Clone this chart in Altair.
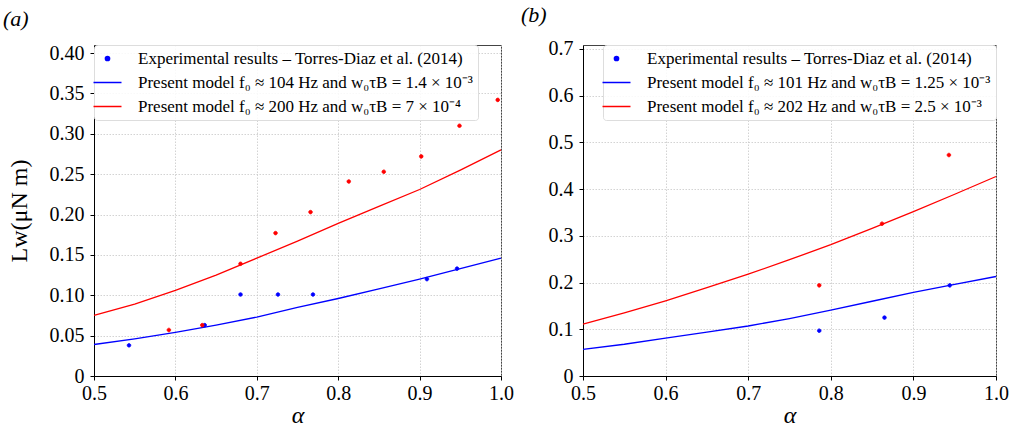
import altair as alt
import pandas as pd

FONT = "Liberation Serif"

# ---------------- data ----------------
alpha_grid = [0.50, 0.55, 0.60, 0.65, 0.70, 0.75, 0.80, 0.85, 0.90, 0.95, 1.00]

# panel (a)
a_model_blue = [0.039, 0.046, 0.054, 0.063, 0.073, 0.085, 0.096, 0.108, 0.120, 0.133, 0.146]
a_model_red = [0.075, 0.089, 0.106, 0.125, 0.146, 0.167, 0.189, 0.210, 0.231, 0.255, 0.280]
a_exp_blue_x = [0.543, 0.636, 0.680, 0.726, 0.769, 0.909, 0.946]
a_exp_blue_y = [0.038, 0.063, 0.101, 0.101, 0.101, 0.120, 0.133]
a_exp_red_x = [0.592, 0.633, 0.680, 0.723, 0.766, 0.813, 0.856, 0.902, 0.949, 0.996]
a_exp_red_y = [0.057, 0.063, 0.139, 0.177, 0.203, 0.241, 0.253, 0.272, 0.310, 0.342]
a_labels = [
    "Experimental results – Torres-Diaz et al. (2014)",
    "Present model f₀ ≈ 104 Hz and w₀τB = 1.4 × 10⁻³",
    "Present model f₀ ≈ 200 Hz and w₀τB = 7 × 10⁻⁴",
]

# panel (b)
b_model_blue = [0.057, 0.068, 0.081, 0.094, 0.107, 0.123, 0.141, 0.160, 0.179, 0.196, 0.213]
b_model_red = [0.111, 0.135, 0.161, 0.189, 0.218, 0.249, 0.281, 0.316, 0.352, 0.389, 0.427]
b_exp_blue_x = [0.786, 0.865, 0.944]
b_exp_blue_y = [0.097, 0.125, 0.194]
b_exp_red_x = [0.786, 0.862, 0.943]
b_exp_red_y = [0.194, 0.326, 0.473]
b_labels = [
    "Experimental results – Torres-Diaz et al. (2014)",
    "Present model f₀ ≈ 101 Hz and w₀τB = 1.25 × 10⁻³",
    "Present model f₀ ≈ 202 Hz and w₀τB = 2.5 × 10⁻³",
]

x_ticks = [0.5, 0.6, 0.7, 0.8, 0.9, 1.0]
a_y_ticks = [0, 0.05, 0.10, 0.15, 0.20, 0.25, 0.30, 0.35, 0.40]
b_y_ticks = [0, 0.1, 0.2, 0.3, 0.4, 0.5, 0.6, 0.7]

BLUE = "#0000ff"
RED = "#ff0000"

KEYS = ["e1", "e2", "m1", "m2"]
CIRCLE = "M -0.3,0 A 0.3,0.3 0 1,1 0.3,0 A 0.3,0.3 0 1,1 -0.3,0 Z"
LINE = "M -2,0 L 2,0"


def panel(model_blue, model_red, ebx, eby, erx, ery, labels, y_ticks, y_max,
          y_fmt, width, height, title, legend_orient, y_title, title_dx, title_offset):
    lines = pd.DataFrame({
        "alpha": alpha_grid + alpha_grid,
        "L": model_blue + model_red,
        "key": ["m1"] * len(alpha_grid) + ["m2"] * len(alpha_grid),
    })
    pts = pd.DataFrame({
        "alpha": ebx + erx,
        "L": eby + ery,
        "key": ["e1"] * len(ebx) + ["e2"] * len(erx),
    })
    label_expr = (
        f"datum.value == 'e1' ? '{labels[0]}' : "
        f"datum.value == 'm1' ? '{labels[1]}' : '{labels[2]}'"
    )
    xenc = alt.X("alpha:Q", scale=alt.Scale(domain=[0.5, 1.0], nice=False, zero=False),
                 axis=alt.Axis(values=x_ticks, format=".1f", title="α", labelFlush=False,
                               labelPadding=3, titleFontStyle="italic", titlePadding=0))
    yaxis = alt.Axis(values=y_ticks, labelFlush=False, labelPadding=6,
                     labelExpr=f"datum.value == 0 ? '0' : format(datum.value, '{y_fmt}')",
                     title=y_title if y_title else None, titlePadding=18)
    yenc = alt.Y("L:Q", scale=alt.Scale(domain=[0, y_max], nice=False), axis=yaxis)

    line_layer = alt.Chart(lines).mark_line(strokeWidth=1.3).encode(
        x=xenc, y=yenc,
        stroke=alt.Stroke("key:N", scale=alt.Scale(domain=["m1", "m2"], range=[BLUE, RED]),
                          legend=None),
        detail="key:N",
    )
    legend = alt.Legend(
        title=None, orient=legend_orient, offset=0, values=["e1", "m1", "m2"],
        labelExpr=label_expr, labelFont=FONT, labelFontSize=17, labelColor="black",
        labelLimit=700, symbolSize=196, symbolStrokeWidth=1.5, labelOffset=22,
        fillColor="rgba(255,255,255,0.85)", strokeColor="#dddddd", cornerRadius=3,
        padding=5, rowPadding=6,
    )
    point_layer = alt.Chart(pts).mark_point(size=144, strokeWidth=0.8, opacity=1).encode(
        x=xenc, y=yenc,
        color=alt.Color("key:N", scale=alt.Scale(domain=KEYS, range=[BLUE, RED, BLUE, RED]),
                        legend=legend),
        fill=alt.Fill("key:N", scale=alt.Scale(domain=KEYS,
                                              range=[BLUE, RED, "transparent", "transparent"]),
                      legend=legend),
        shape=alt.Shape("key:N", scale=alt.Scale(domain=KEYS, range=[CIRCLE, CIRCLE, LINE, LINE]),
                        legend=legend),
    )
    return alt.layer(line_layer, point_layer).properties(
        width=width, height=height,
        title=alt.TitleParams(title, anchor="start", frame="bounds", font=FONT, fontSize=22,
                              fontStyle="italic", fontWeight="normal", color="black",
                              dx=title_dx, offset=title_offset),
    )


pa = panel(a_model_blue, a_model_red, a_exp_blue_x, a_exp_blue_y, a_exp_red_x, a_exp_red_y,
           a_labels, a_y_ticks, 0.41, ".2f", 407, 331, "(a)", "top-left", "Lw(μN m)", -4, 12)
pb = panel(b_model_blue, b_model_red, b_exp_blue_x, b_exp_blue_y, b_exp_red_x, b_exp_red_y,
           b_labels, b_y_ticks, 0.7085, ".1f", 413, 331, "(b)", "top-right", None, -27, 12)

chart = alt.hconcat(pa, pb, spacing=6).resolve_scale(
    color="independent", fill="independent", shape="independent", stroke="independent",
    x="independent", y="independent",
).resolve_legend(color="independent", fill="independent", shape="independent").properties(
    padding={"left": 2, "top": 3, "right": 0, "bottom": 0}, background="white"
).configure_view(stroke="#444444", strokeWidth=1).configure_axis(
    domainColor="black", tickColor="black", tickSize=4, labelFont=FONT, labelFontSize=20,
    labelColor="black", titleFont=FONT, titleFontSize=24, titleColor="black",
    titleFontWeight="normal", gridColor="#c8c8c8", gridDash=[1.5, 1.5], gridWidth=0.8,
)

chart.save("out.html", embed_options={"renderer": "svg", "actions": False})
